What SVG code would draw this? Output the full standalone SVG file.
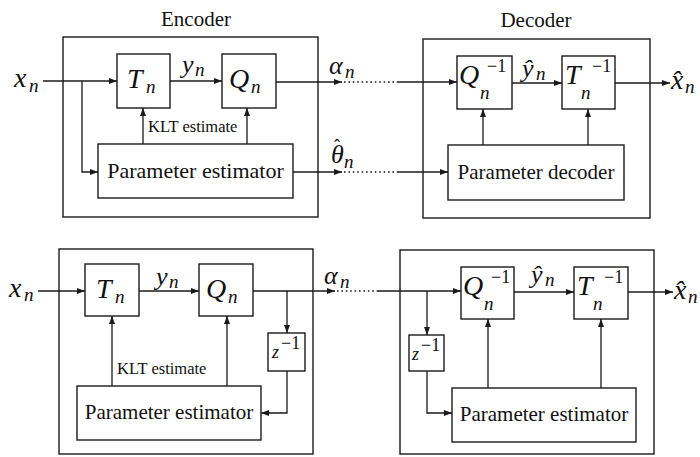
<svg xmlns="http://www.w3.org/2000/svg" width="700" height="457" viewBox="0 0 700 457">
<style>
.box{fill:none;stroke:#1a1a1a;stroke-width:1.4}
.ln{fill:none;stroke:#1a1a1a;stroke-width:1.3}
.arr{marker-end:url(#ah)}
.dot{fill:none;stroke:#1a1a1a;stroke-width:1.6;stroke-dasharray:1.6 2.8}
text{font-family:'Liberation Serif','DejaVu Serif',serif;fill:#111}
.m{font-style:italic}
.big{font-size:28px}
.sub{font-size:19px}
.sup{font-size:18px;font-style:normal}
.lbl{font-size:21px}
.klt{font-size:16.5px}
</style>
<defs>
<marker id="ah" markerUnits="userSpaceOnUse" markerWidth="8" markerHeight="6" refX="8" refY="3" orient="auto">
<path d="M0,0 L8,3 L0,6 z" fill="#1a1a1a"/>
</marker>
</defs>

<!-- ===== Top: Encoder ===== -->
<g id="encoder1">
<rect class="box" x="63" y="37" width="255" height="180"/>
<text x="196" y="26" font-size="21" text-anchor="middle">Encoder</text>
</g>
<g id="T1">
<rect class="box" x="117" y="54" width="53" height="54"/>
<text class="m big" x="127" y="88">T<tspan class="sub" x="146" y="93">n</tspan></text>
</g>
<g id="Q1">
<rect class="box" x="222" y="54" width="54" height="54"/>
<text class="m big" x="229" y="88">Q<tspan class="sub" x="251" y="93">n</tspan></text>
</g>
<g id="pe1">
<rect class="box" x="98" y="144" width="195" height="54"/>
<text x="195.5" y="178" font-size="22" text-anchor="middle">Parameter estimator</text>
</g>

<!-- ===== Top: Decoder ===== -->
<g id="decoder1">
<rect class="box" x="423" y="39" width="227" height="179"/>
<text x="536" y="27" font-size="21" text-anchor="middle">Decoder</text>
</g>
<g id="Qinv1">
<rect class="box" x="457" y="56" width="55" height="53"/>
<text class="m big" x="459" y="84">Q<tspan class="sub" x="480" y="99">n</tspan><tspan class="sup" x="487" y="72">−1</tspan></text>
</g>
<g id="Tinv1">
<rect class="box" x="562" y="56" width="53" height="53"/>
<text class="m big" x="565" y="84">T<tspan class="sub" x="581" y="99">n</tspan><tspan class="sup" x="592" y="72">−1</tspan></text>
</g>
<g id="pd1">
<rect class="box" x="448" y="145" width="176" height="55"/>
<text class="lbl" x="536" y="179" text-anchor="middle">Parameter decoder</text>
</g>

<!-- ===== Bottom: Encoder ===== -->
<g id="encoder2">
<rect class="box" x="59" y="249" width="254" height="205"/>
</g>
<g id="T2">
<rect class="box" x="85" y="264" width="54" height="52"/>
<text class="m big" x="96" y="298">T<tspan class="sub" x="115" y="303">n</tspan></text>
</g>
<g id="Q2">
<rect class="box" x="199" y="264" width="54" height="52"/>
<text class="m big" x="206" y="298">Q<tspan class="sub" x="228" y="303">n</tspan></text>
</g>
<g id="z1">
<rect class="box" x="268" y="333" width="37" height="38"/>
<text class="m" x="272" y="358" font-size="18">z<tspan class="sup" x="281" y="349" font-size="14">−1</tspan></text>
</g>
<g id="pe2">
<rect class="box" x="77" y="386" width="184" height="54"/>
<text class="lbl" x="169" y="419" text-anchor="middle">Parameter estimator</text>
</g>

<!-- ===== Bottom: Decoder ===== -->
<g id="decoder2">
<rect class="box" x="400" y="250" width="254" height="204"/>
</g>
<g id="Qinv2">
<rect class="box" x="461" y="267" width="53" height="52"/>
<text class="m big" x="463" y="295">Q<tspan class="sub" x="484" y="310">n</tspan><tspan class="sup" x="491" y="283">−1</tspan></text>
</g>
<g id="Tinv2">
<rect class="box" x="574" y="267" width="54" height="52"/>
<text class="m big" x="577" y="295">T<tspan class="sub" x="593" y="310">n</tspan><tspan class="sup" x="604" y="283">−1</tspan></text>
</g>
<g id="z2">
<rect class="box" x="409" y="335" width="35" height="36"/>
<text class="m" x="412" y="360" font-size="18">z<tspan class="sup" x="421" y="351" font-size="14">−1</tspan></text>
</g>
<g id="pe3">
<rect class="box" x="452" y="388" width="184" height="54"/>
<text class="lbl" x="544" y="421" text-anchor="middle">Parameter estimator</text>
</g>

<!-- ===== Connectors ===== -->
<g id="connectors">
<line class="ln arr" x1="43" y1="81" x2="117" y2="81"/>
<polyline class="ln arr" points="82,81 82,172 98,172"/>
<line class="ln arr" x1="170" y1="81" x2="222" y2="81"/>
<line class="ln arr" x1="143" y1="144" x2="143" y2="108"/>
<line class="ln arr" x1="247" y1="144" x2="247" y2="108"/>
<line class="ln arr" x1="276" y1="82" x2="342" y2="82"/>
<line class="dot" x1="344" y1="82" x2="398" y2="82"/>
<line class="ln arr" x1="398" y1="82" x2="457" y2="82"/>
<line class="ln arr" x1="293" y1="172" x2="342" y2="172"/>
<line class="dot" x1="344" y1="172" x2="398" y2="172"/>
<line class="ln arr" x1="398" y1="172" x2="448" y2="172"/>
<line class="ln arr" x1="512" y1="83" x2="562" y2="83"/>
<line class="ln arr" x1="615" y1="83" x2="670" y2="83"/>
<line class="ln arr" x1="483" y1="145" x2="483" y2="109"/>
<line class="ln arr" x1="588" y1="145" x2="588" y2="109"/>
<line class="ln arr" x1="38" y1="291" x2="85" y2="291"/>
<line class="ln arr" x1="139" y1="291" x2="199" y2="291"/>
<line class="ln arr" x1="253" y1="291" x2="335" y2="291"/>
<line class="ln arr" x1="287" y1="291" x2="287" y2="333"/>
<polyline class="ln arr" points="287,371 287,413 261,413"/>
<line class="ln arr" x1="112" y1="386" x2="112" y2="316"/>
<line class="ln arr" x1="227" y1="386" x2="227" y2="316"/>
<line class="dot" x1="337" y1="291" x2="378" y2="291"/>
<line class="ln arr" x1="378" y1="291" x2="461" y2="291"/>
<line class="ln arr" x1="427" y1="291" x2="427" y2="335"/>
<polyline class="ln arr" points="427,371 427,413 452,413"/>
<line class="ln arr" x1="514" y1="292" x2="574" y2="292"/>
<line class="ln arr" x1="628" y1="292" x2="673" y2="292"/>
<line class="ln arr" x1="488" y1="388" x2="488" y2="319"/>
<line class="ln arr" x1="601" y1="388" x2="601" y2="319"/>
</g>

<!-- ===== Signal labels ===== -->
<g id="labels">
<text class="m big" x="14" y="87">x<tspan class="sub" x="29" y="92">n</tspan></text>
<text class="m" x="182" y="73" font-size="26">y<tspan class="sub" x="195" y="76">n</tspan></text>
<text class="m" x="329" y="74" font-size="26">α<tspan class="sub" x="345" y="78">n</tspan></text>
<text class="m" x="331" y="163" font-size="26">θ<tspan x="334" y="152" font-size="18" font-style="normal">ˆ</tspan><tspan class="sub" x="344" y="168">n</tspan></text>
<text class="klt" x="148" y="132">KLT estimate</text>
<text class="m" x="522" y="77" font-size="26">ŷ<tspan class="sub" x="536" y="80">n</tspan></text>
<text class="m big" x="671" y="89">x̂<tspan class="sub" x="685" y="93">n</tspan></text>

<text class="m big" x="9" y="297">x<tspan class="sub" x="24" y="301">n</tspan></text>
<text class="m" x="156" y="285" font-size="26">y<tspan class="sub" x="169" y="288">n</tspan></text>
<text class="m" x="324" y="284" font-size="26">α<tspan class="sub" x="340" y="288">n</tspan></text>
<text class="klt" x="117" y="374">KLT estimate</text>
<text class="m" x="531" y="283" font-size="26">ŷ<tspan class="sub" x="545" y="286">n</tspan></text>
<text class="m big" x="674" y="299">x̂<tspan class="sub" x="688" y="303">n</tspan></text>
</g>
</svg>
